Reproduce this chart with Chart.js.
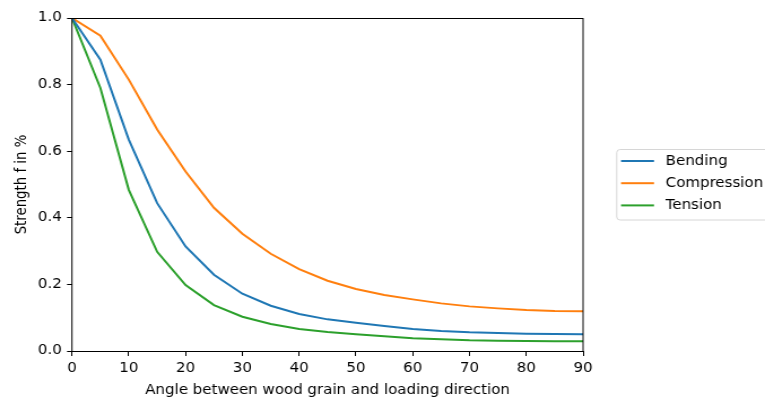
<!DOCTYPE html>
<html>
<head>
<meta charset="utf-8">
<script src="https://cdn.jsdelivr.net/npm/chart.js@4/dist/chart.umd.min.js"></script>
<style>
  html, body { margin: 0; padding: 0; background: #fff; overflow: hidden; }
  #wrap { width: 765px; height: 397px; }
  #c { display: block; width: 765px; height: 397px; }
</style>
</head>
<body>
<div id="wrap"><canvas id="c" width="677" height="397" style="width:765px;height:397px"></canvas></div>
<script>
// Angle between grain and load (degrees)
const angles = [0, 5, 10, 15, 20, 25, 30, 35, 40, 45, 50, 55, 60, 65, 70, 75, 80, 85, 90];

// Relative strength per loading case
const bending = [1.0, 0.875, 0.635, 0.444, 0.314, 0.229, 0.172, 0.136, 0.111, 0.095, 0.085, 0.075, 0.066, 0.060, 0.056, 0.054, 0.052, 0.051, 0.050];
const compression = [1.0, 0.947, 0.815, 0.665, 0.539, 0.430, 0.352, 0.292, 0.246, 0.211, 0.186, 0.168, 0.155, 0.143, 0.134, 0.128, 0.123, 0.120, 0.119];
const tension = [1.0, 0.790, 0.484, 0.298, 0.198, 0.138, 0.103, 0.081, 0.066, 0.057, 0.050, 0.044, 0.038, 0.035, 0.032, 0.031, 0.030, 0.029, 0.029];

const seriesNames = ['Bending', 'Compression', 'Tension'];
const seriesColors = ['#1f77b4', '#ff7f0e', '#2ca02c'];

const xTicks = [0, 10, 20, 30, 40, 50, 60, 70, 80, 90];
const yTicks = [0.0, 0.2, 0.4, 0.6, 0.8, 1.0];

const FONT = 'DejaVu Sans';
const FS = 13.3;

function pts(ys) { return angles.map((a, i) => ({ x: a, y: ys[i] })); }

// Four-sided frame around the plot area
const frame = {
  id: 'frame',
  afterDatasetsDraw(chart) {
    const { ctx, chartArea: a } = chart;
    ctx.save();
    ctx.strokeStyle = '#000';
    ctx.lineWidth = 1;
    ctx.beginPath();
    ctx.moveTo(a.left, a.top + 0.5);
    ctx.lineTo(a.right, a.top + 0.5);
    ctx.moveTo(a.left, a.bottom + 0.5);
    ctx.lineTo(a.right, a.bottom + 0.5);
    ctx.moveTo(a.left, a.top);
    ctx.lineTo(a.left, a.bottom + 1);
    ctx.moveTo(a.right, a.top);
    ctx.lineTo(a.right, a.bottom + 1);
    ctx.stroke();
    ctx.restore();
  }
};

// Boxed legend placed to the right of the plot
const sideLegend = {
  id: 'sideLegend',
  afterDraw(chart) {
    const { ctx } = chart;
    const x0 = 545.8, y0 = 149.5, w = 150, h = 70.5, r = 3;
    ctx.save();
    ctx.beginPath();
    ctx.moveTo(x0 + r, y0);
    ctx.lineTo(x0 + w - r, y0);
    ctx.arcTo(x0 + w, y0, x0 + w, y0 + r, r);
    ctx.lineTo(x0 + w, y0 + h - r);
    ctx.arcTo(x0 + w, y0 + h, x0 + w - r, y0 + h, r);
    ctx.lineTo(x0 + r, y0 + h);
    ctx.arcTo(x0, y0 + h, x0, y0 + h - r, r);
    ctx.lineTo(x0, y0 + r);
    ctx.arcTo(x0, y0, x0 + r, y0, r);
    ctx.closePath();
    ctx.fillStyle = 'rgba(255,255,255,0.8)';
    ctx.fill();
    ctx.strokeStyle = '#d6d6d6';
    ctx.lineWidth = 1;
    ctx.stroke();

    ctx.font = FS + 'px "' + FONT + '"';
    ctx.textBaseline = 'middle';
    ctx.textAlign = 'left';
    chart.data.datasets.forEach((ds, i) => {
      const y = 161 + i * 22.2;
      ctx.strokeStyle = ds.borderColor;
      ctx.lineWidth = 2;
      ctx.beginPath();
      ctx.moveTo(549.6, y);
      ctx.lineTo(578.8, y);
      ctx.stroke();
      ctx.fillStyle = '#000';
      ctx.fillText(ds.label, 589.1, y + 0.5);
    });
    ctx.restore();
  }
};

const chart = new Chart(document.getElementById('c'), {
  type: 'line',
  data: {
    datasets: [bending, compression, tension].map((ys, i) => ({
      label: seriesNames[i],
      data: pts(ys),
      borderColor: seriesColors[i],
      backgroundColor: seriesColors[i],
      borderWidth: 2,
      pointRadius: 0,
      tension: 0,
      fill: false
    }))
  },
  options: {
    responsive: false,
    animation: false,
    devicePixelRatio: 1,
    layout: { padding: { top: 18, right: 161, left: 0, bottom: 0 } },
    plugins: { legend: { display: false }, tooltip: { enabled: false } },
    scales: {
      x: {
        type: 'linear',
        min: 0, max: 90,
        afterFit(s) { s.height = 46; },
        afterBuildTicks(s) { s.ticks = xTicks.map(v => ({ value: v })); },
        border: { display: false },
        grid: { drawOnChartArea: false, drawTicks: true, tickLength: 5, color: '#000', lineWidth: 1 },
        ticks: { color: '#000', font: { family: FONT, size: FS }, padding: 5, maxRotation: 0,
                 callback: v => String(v) },
        title: { display: true, text: 'Angle between wood grain and loading direction', color: '#000',
                 font: { family: FONT, size: FS }, padding: { top: 0, bottom: -1.5 } }
      },
      y: {
        type: 'linear',
        min: 0, max: 1,
        afterFit(s) { s.width = 63.7; },
        afterBuildTicks(s) { s.ticks = yTicks.map(v => ({ value: v })); },
        border: { display: false },
        grid: { drawOnChartArea: false, drawTicks: true, tickLength: 4.4, color: '#000', lineWidth: 1 },
        ticks: { color: '#000', font: { family: FONT, size: FS }, padding: 4.7,
                 callback: v => Number(v).toFixed(1) },
        title: { display: true, text: 'Strength f in %', color: '#000',
                 font: { family: FONT, size: FS }, padding: { top: 12, bottom: 0 } }
      }
    }
  },
  plugins: [frame, sideLegend]
});
chart.canvas.style.width = '765px';
chart.canvas.style.height = '397px';
</script>
</body>
</html>
